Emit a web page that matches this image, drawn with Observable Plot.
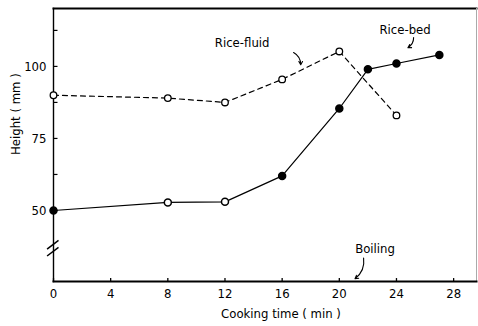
<!DOCTYPE html>
<html>
<head>
<meta charset="utf-8">
<script src="https://cdn.jsdelivr.net/npm/d3@7"></script>
<script src="https://cdn.jsdelivr.net/npm/@observablehq/plot@0.6"></script>
<style>
  html, body { margin: 0; padding: 0; background: #fff; }
  svg { display: block; }
</style>
</head>
<body>
<div id="chart"></div>
<script>
// Cooking time (min)
const fluidTime = [0, 8, 12, 16, 20, 24];
const fluidHeight = [90, 89, 87.5, 95.5, 105.2, 83];
const bedTime = [0, 8, 12, 16, 20, 22, 24, 27];
const bedHeight = [50, 52.8, 53, 62, 85.4, 99, 101, 104];

const xTicks = [0, 4, 8, 12, 16, 20, 24, 28];
const yTicks = [50, 75, 100];
const yMinorTicks = [62.5, 87.5, 112.5];

const xTitle = "Cooking time ( min )";
const yTitle = "Height ( mm )";

const labelText = ["Rice-fluid", "Rice-bed", "Boiling"];
const labelX = [13.2, 24.6, 22.5];
const labelY = [108.3, 112.8, 36.8];
const arrowX1 = [16.8, 25.2, 21.7];
const arrowY1 = [104.8, 110, 33.5];
const arrowX2 = [17.3, 24.8, 21.1];
const arrowY2 = [100.6, 106.5, 26.3];

const xDomain = [0, 29.6];
const yDomain = [25.35, 120.1];

const fluid = fluidTime.map((t, i) => ({t, h: fluidHeight[i]}));
const bed = bedTime.map((t, i) => ({t, h: bedHeight[i]}));
const labels = labelText.map((s, i) => ({s, x: labelX[i], y: labelY[i]}));
const arrows = arrowX1.map((x1, i) => ({x1, y1: arrowY1[i], x2: arrowX2[i], y2: arrowY2[i]}));
const breaks = [{x1: -0.45, y1: 34.2, x2: 0.35, y2: 37.2}, {x1: -0.45, y1: 36.6, x2: 0.35, y2: 39.6}];

const font = "'DejaVu Sans Condensed', 'DejaVu Sans', sans-serif";

const chart = Plot.plot({
  width: 478,
  height: 326,
  marginLeft: 53,
  marginRight: 2,
  marginTop: 8,
  marginBottom: 45,
  style: {fontFamily: font, fontSize: "12px", color: "#000", background: "#fff"},
  x: {domain: xDomain},
  y: {domain: yDomain},
  marks: [
    Plot.frame({anchor: "top", stroke: "#000", strokeWidth: 2}),
    Plot.frame({anchor: "right", stroke: "#aaa", strokeWidth: 1}),
    Plot.frame({anchor: "left", stroke: "#000", strokeWidth: 1.4}),
    Plot.frame({anchor: "bottom", stroke: "#000", strokeWidth: 2}),
    Plot.axisX({ticks: xTicks, tickSize: 0, tickPadding: 7, fontSize: 13, label: null}),
    Plot.axisY({ticks: yTicks, tickSize: 0, tickPadding: 7, fontSize: 13, label: null}),
    Plot.text([xTitle], {frameAnchor: "bottom", dy: 36, dx: 16, fontSize: 13, fill: "#000"}),
    Plot.text([yTitle], {frameAnchor: "left", rotate: -90, dx: -38, dy: 10, fontSize: 13, fill: "#000"}),
    Plot.link(xTicks, {x1: d => d, x2: d => d, y1: yDomain[0], y2: yDomain[0] + 1.2, stroke: "#000", strokeWidth: 1.3}),
    Plot.link(yTicks.concat(yMinorTicks), {y1: d => d, y2: d => d, x1: 0, x2: 0.28, stroke: "#000", strokeWidth: 1.2}),
    Plot.link(breaks, {x1: "x1", y1: "y1", x2: "x2", y2: "y2", stroke: "#000", strokeWidth: 1.5}),
    Plot.line(fluid, {x: "t", y: "h", stroke: "#000", strokeWidth: 1.2, strokeDasharray: "5,4"}),
    Plot.line(bed, {x: "t", y: "h", stroke: "#000", strokeWidth: 1.2}),
    Plot.dot(fluid, {x: "t", y: "h", r: 3.3, fill: "#fff", stroke: "#000", strokeWidth: 1.3}),
    Plot.dot(bed, {x: "t", y: "h", r: 3.5, fill: d => (d.t === 8 || d.t === 12) ? "#fff" : "#000", stroke: "#000", strokeWidth: 1.5}),
    Plot.text(labels, {x: "x", y: "y", text: "s", fontSize: 13, fill: "#000"}),
    Plot.arrow(arrows, {x1: "x1", y1: "y1", x2: "x2", y2: "y2", bend: 30, headLength: 5, stroke: "#000", strokeWidth: 1.1})
  ]
});
document.getElementById("chart").appendChild(chart);
</script>
</body>
</html>
